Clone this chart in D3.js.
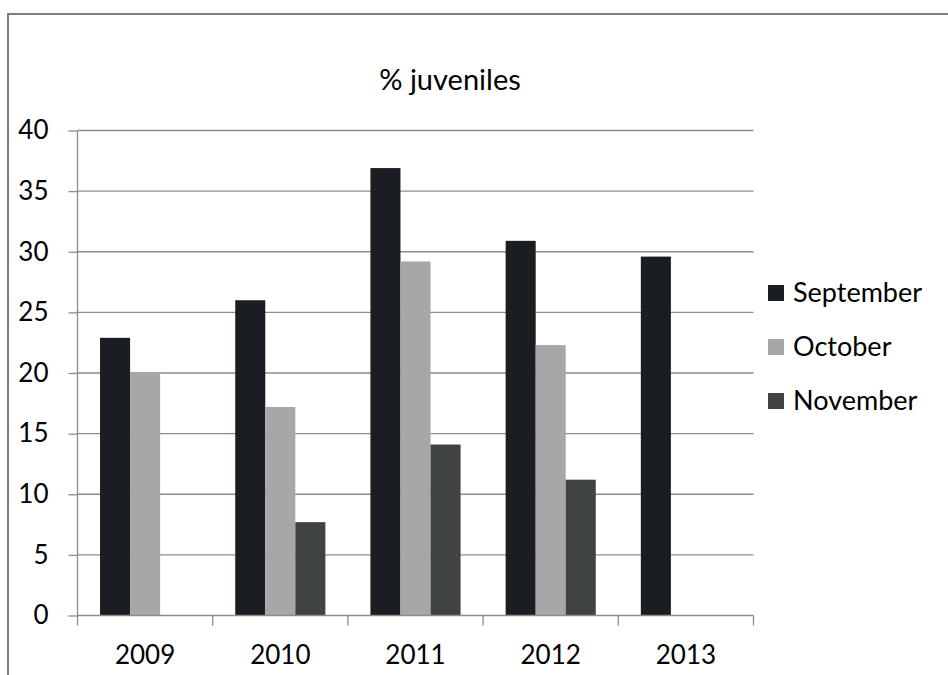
<!DOCTYPE html>
<html lang='en'>
  <head>
    <meta charset='utf-8'>
    <title>% juveniles</title>
    <script type='text/javascript' src='https://cdn.jsdelivr.net/npm/d3@7'></script>
    <style>
      body { margin: 0; background: #fff; }
    </style>
  </head>
  <body>
    <script type='text/javascript'>

      var years = ['2009', '2010', '2011', '2012', '2013'];
      var months = ['September', 'October', 'November'];
      var september = [22.9, 26.0, 36.9, 30.9, 29.6];
      var october = [20.0, 17.2, 29.2, 22.3, null];
      var november = [null, 7.7, 14.1, 11.2, null];
      var yTicks = [0, 5, 10, 15, 20, 25, 30, 35, 40];
      var colors = ['#1a1d21', '#a5a7a9', '#404343'];

      var w = 948;
      var h = 675;
      var plotL = 77.5, plotR = 753.5, plotT = 130.5, plotB = 615.5;
      var font = 'Lato, "Open Sans", sans-serif';

      var series = [september, october, november];

      var svg = d3.select('body')
                  .append('svg')
                  .attr('width', w)
                  .attr('height', h);

      // outer frame
      svg.append('rect')
         .attr('x', 8)
         .attr('y', 14)
         .attr('width', 960)
         .attr('height', 700)
         .attr('fill', 'white')
         .attr('stroke', '#7f7f7f')
         .attr('stroke-width', 2);

      var xScale = d3.scaleBand()
                     .domain(years)
                     .range([plotL, plotR]);

      // Excel gap width 150%: 3 bars + 1.5 bar widths per category
      var barW = xScale.bandwidth() / 4.5;
      var inner = d3.scaleBand()
                    .domain(months)
                    .range([barW * 0.75, barW * 3.75]);

      var yScale = d3.scaleLinear()
                     .domain([0, 40])
                     .range([plotB, plotT]);

      // gridlines
      svg.selectAll('.grid')
         .data(yTicks.slice(1))
         .enter()
         .append('line')
         .attr('x1', plotL)
         .attr('x2', plotR)
         .attr('y1', function(d){ return yScale(d); })
         .attr('y2', function(d){ return yScale(d); })
         .attr('stroke', '#8c8c8c')
         .attr('stroke-width', 1.3);

      // bars (missing values are skipped)
      series.forEach(function(vals, s){
        var pts = vals.map(function(v, i){ return {year: years[i], value: v}; })
                      .filter(function(d){ return d.value != null; });
        svg.selectAll('.bar' + s)
           .data(pts)
           .enter()
           .append('rect')
           .attr('x', function(d){ return xScale(d.year) + inner(months[s]); })
           .attr('y', function(d){ return yScale(d.value); })
           .attr('width', inner.bandwidth())
           .attr('height', function(d){ return plotB - yScale(d.value); })
           .attr('fill', colors[s]);
      });

      // y axis
      var yAxis = d3.axisLeft(yScale)
                    .tickValues(yTicks)
                    .tickSize(9)
                    .tickPadding(20);
      var gy = svg.append('g')
                  .attr('transform', 'translate(' + plotL + ',0)')
                  .call(yAxis);

      // x axis
      var xAxis = d3.axisBottom(xScale)
                    .tickSize(10)
                    .tickPadding(20);
      var gx = svg.append('g')
                  .attr('transform', 'translate(0,' + plotB + ')')
                  .call(xAxis);

      // move x ticks to category boundaries
      gx.selectAll('.tick line')
        .attr('x1', -xScale.bandwidth() / 2)
        .attr('x2', -xScale.bandwidth() / 2);
      gx.append('line')
        .attr('x1', plotR).attr('x2', plotR)
        .attr('y1', 0).attr('y2', 10)
        .attr('stroke', '#8c8c8c')
        .attr('stroke-width', 1.3);

      [gx, gy].forEach(function(g){
        g.select('.domain').attr('stroke', '#8c8c8c').attr('stroke-width', 1.3);
        g.selectAll('.tick line').attr('stroke', '#8c8c8c').attr('stroke-width', 1.3);
        g.selectAll('.tick text')
         .attr('fill', '#000')
         .attr('font-family', font)
         .attr('font-size', '26px');
      });
      gy.select('.domain').attr('d', 'M0,' + plotB + 'V' + plotT);
      gx.select('.domain').attr('d', 'M' + plotL + ',0H' + plotR);

      // title
      svg.append('text')
         .text('% juveniles')
         .attr('x', 450)
         .attr('y', 90)
         .attr('text-anchor', 'middle')
         .attr('font-family', font)
         .attr('font-size', '29px')
         .attr('fill', '#000');

      // legend
      var legend = svg.selectAll('.legend')
                      .data(months)
                      .enter()
                      .append('g')
                      .attr('transform', function(d, i){
                        return 'translate(768,' + (293 + i * 54) + ')';
                      });
      legend.append('rect')
            .attr('x', 0)
            .attr('y', -8)
            .attr('width', 16)
            .attr('height', 16)
            .attr('fill', function(d, i){ return colors[i]; });
      legend.append('text')
            .text(function(d){ return d; })
            .attr('x', 25)
            .attr('y', 0)
            .attr('dy', '0.35em')
            .attr('font-family', font)
            .attr('font-size', '27px')
            .attr('fill', '#000');

    </script>
  </body>
</html>
